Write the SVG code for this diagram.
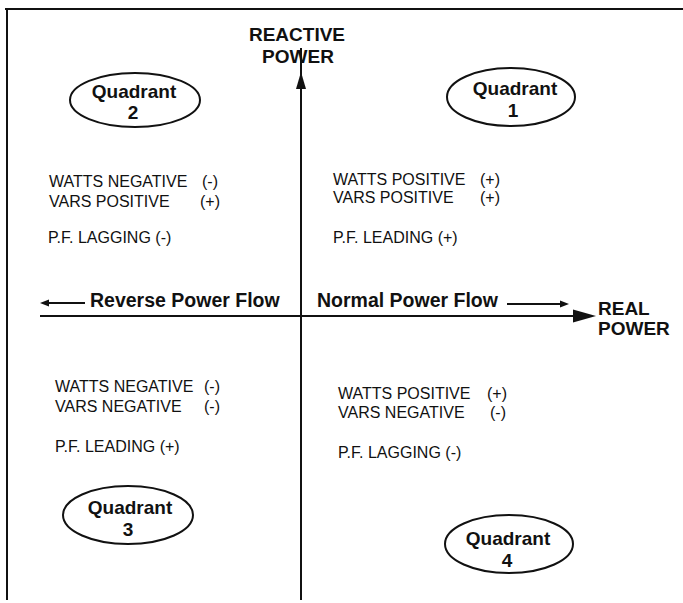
<svg xmlns="http://www.w3.org/2000/svg" width="683" height="603" viewBox="0 0 683 603">
  <style>
    .frame { stroke: #111; stroke-width: 2; fill: none; }
    .axis { stroke: #111; stroke-width: 2; fill: none; }
    .ell { stroke: #111; stroke-width: 2; fill: none; }
    .txt { font-family: "Liberation Sans", Arial, sans-serif; font-size: 16px; fill: #111; }
    .q { font-family: "Liberation Sans", Arial, sans-serif; font-size: 19px; font-weight: bold; fill: #111; text-anchor: middle; }
    .b { font-family: "Liberation Sans", Arial, sans-serif; font-size: 19.5px; font-weight: bold; fill: #111; }
    .ax { font-family: "Liberation Sans", Arial, sans-serif; font-size: 19px; font-weight: bold; fill: #111; }
    .head { fill: #111; stroke: none; }
  </style>
  <rect width="683" height="603" fill="#ffffff"/>

  <g id="frame">
    <line class="frame" x1="5" y1="9" x2="683" y2="9"/>
    <line class="frame" x1="7" y1="9" x2="7" y2="600"/>
  </g>

  <g id="connectors">
    <line class="axis" x1="301" y1="48" x2="301" y2="600"/>
    <polygon class="head" points="301,72 296,89 306,89"/>
    <line class="axis" x1="40" y1="316" x2="576" y2="316"/>
    <polygon class="head" points="596,316 573,309.5 573,322.5"/>
    <line class="axis" x1="46" y1="303" x2="85" y2="303" stroke-width="1.8"/>
    <polygon class="head" points="40,303 49,299.5 49,306.5"/>
    <line class="axis" x1="507" y1="304" x2="562" y2="304" stroke-width="1.8"/>
    <polygon class="head" points="569,304 560,300.5 560,307.5"/>
  </g>

  <g id="axis-labels">
    <text class="ax" x="297" y="41" text-anchor="middle">REACTIVE</text>
    <text class="ax" x="298" y="63" text-anchor="middle">POWER</text>
    <text class="ax" x="598" y="315">REAL</text>
    <text class="ax" x="598" y="335">POWER</text>
    <text class="b" x="90" y="307">Reverse Power Flow</text>
    <text class="b" x="317" y="307">Normal Power Flow</text>
  </g>

  <g id="quadrant2">
    <ellipse class="ell" cx="135" cy="100" rx="65" ry="27"/>
    <text class="q" x="134" y="98">Quadrant</text>
    <text class="q" x="133" y="119">2</text>
  </g>
  <g id="quadrant1">
    <ellipse class="ell" cx="511" cy="97" rx="64" ry="29"/>
    <text class="q" x="515" y="95">Quadrant</text>
    <text class="q" x="513" y="117">1</text>
  </g>
  <g id="quadrant3">
    <ellipse class="ell" cx="128" cy="515" rx="65" ry="29"/>
    <text class="q" x="130" y="514">Quadrant</text>
    <text class="q" x="128" y="536">3</text>
  </g>
  <g id="quadrant4">
    <ellipse class="ell" cx="509" cy="544" rx="64" ry="29"/>
    <text class="q" x="508" y="545">Quadrant</text>
    <text class="q" x="507" y="567">4</text>
  </g>

  <g id="q2-text">
    <text class="txt" x="49" y="187">WATTS NEGATIVE</text>
    <text class="txt" x="202" y="187">(-)</text>
    <text class="txt" x="49" y="207">VARS POSITIVE</text>
    <text class="txt" x="200" y="207">(+)</text>
    <text class="txt" x="48" y="243">P.F. LAGGING (-)</text>
  </g>
  <g id="q1-text">
    <text class="txt" x="333" y="185">WATTS POSITIVE</text>
    <text class="txt" x="480" y="185">(+)</text>
    <text class="txt" x="333" y="203">VARS POSITIVE</text>
    <text class="txt" x="480" y="203">(+)</text>
    <text class="txt" x="333" y="243">P.F. LEADING (+)</text>
  </g>
  <g id="q3-text">
    <text class="txt" x="55" y="392">WATTS NEGATIVE</text>
    <text class="txt" x="204" y="392">(-)</text>
    <text class="txt" x="55" y="412">VARS NEGATIVE</text>
    <text class="txt" x="204" y="412">(-)</text>
    <text class="txt" x="55" y="452">P.F. LEADING (+)</text>
  </g>
  <g id="q4-text">
    <text class="txt" x="338" y="399">WATTS POSITIVE</text>
    <text class="txt" x="487" y="399">(+)</text>
    <text class="txt" x="338" y="418">VARS NEGATIVE</text>
    <text class="txt" x="490" y="418">(-)</text>
    <text class="txt" x="338" y="458">P.F. LAGGING (-)</text>
  </g>
</svg>
